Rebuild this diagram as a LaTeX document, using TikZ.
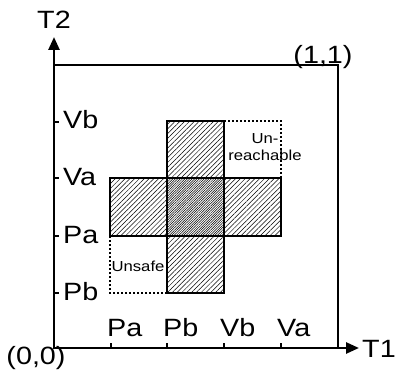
\documentclass[tikz,border=0pt]{standalone}
\usepackage{fontspec}
\setmainfont{Liberation Sans}[FakeStretch=1.15]
\usetikzlibrary{arrows.meta,patterns.meta}
\begin{document}
\begin{tikzpicture}[x=1pt,y=-1pt,
 axis/.style={line width=2.6pt,{Triangle[length=13pt,width=11pt]}-{Triangle[length=13pt,width=11pt]}},
 frame/.style={line width=1.6pt},
 hatchA/.style={pattern={Lines[angle=45,distance=3.4pt,line width=0.5pt]}},
 hatchB/.style={pattern={Lines[angle=45,distance=3.4pt,line width=0.5pt,xshift=2.4pt]}},
 blk/.style={draw,line width=1.8pt},
 dotbox/.style={line width=1.4pt,dash pattern=on 2pt off 2pt},
 lab/.style={font=\fontsize{25}{27}\selectfont,inner sep=0pt},
 small/.style={font=\fontsize{14.5}{17}\selectfont,inner sep=0pt},
 tickmark/.style={line width=1.2pt}]
\useasboundingbox (0,0) rectangle (396,371);
% hatched cross
\fill[hatchA] (110,178) rectangle (281,236);
\fill[hatchB] (167,121) rectangle (224,293);
\draw[blk] (110,178) rectangle (281,236);
\draw[blk] (167,121) rectangle (224,293);
% dotted regions
\draw[dotbox] (167,293) -- (110,293) -- (110,236);
\draw[dotbox] (224,121) -- (281,121) -- (281,178);
% frame
\draw[frame] (54,65) -- (338,65) -- (338,348);
% axes
\coordinate (O) at (54,348);
\coordinate (XE) at (359,348);
\coordinate (YE) at (54,37);
\draw[axis] (YE) -- (O) -- (XE);
% ticks
\foreach \t in {111,167,224,281} \draw[tickmark] (\t,348) -- (\t,343);
\foreach \t in {122,178,236,293} \draw[tickmark] (54,\t) -- (59,\t);
% x labels
\node[lab,anchor=base west] (xPa) at (107,336) {Pa};
\node[lab,anchor=base west] (xPb) at (163,336) {Pb};
\node[lab,anchor=base west] (xVb) at (220,336) {Vb};
\node[lab,anchor=base west] (xVa) at (277,336) {Va};
% y labels
\node[lab,anchor=base west] (yVb) at (63,129) {Vb};
\node[lab,anchor=base west] (yVa) at (63,186) {Va};
\node[lab,anchor=base west] (yPa) at (63,244) {Pa};
\node[lab,anchor=base west] (yPb) at (63,301) {Pb};
% axis labels
\node[lab] (T1) at (379,349) {T1};
\node[lab] (T2) at (54,20) {T2};
\node[lab] (o00) at (36,358) {(0,0)};
\node[lab] (o11) at (323,57) {(1,1)};
% region labels
\node[small] (unsafe) at (138,266) {Unsafe};
\node[small,align=center] (unreach) at (265,147) {Un-\\reachable};
\end{tikzpicture}
\end{document}
